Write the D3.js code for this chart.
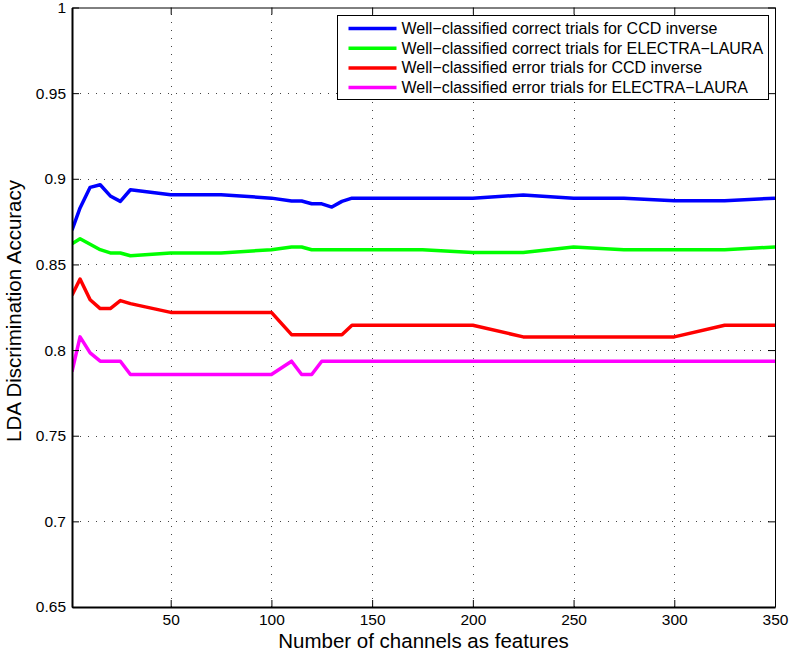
<!DOCTYPE html>
<html>
<head>
<meta charset="utf-8">
<script src="https://cdn.jsdelivr.net/npm/d3@7"></script>
<style>
  body { margin: 0; background: #ffffff; }
  svg { display: block; font-family: "Liberation Sans", Arial, sans-serif; }
</style>
</head>
<body>
<div id="chart"></div>
<script>
// data
let channels = [1, 5, 10, 15, 20, 25, 30, 50, 75, 100, 110, 115, 120, 125, 130, 135, 140, 150, 175, 200, 225, 250, 275, 300, 325, 350];

let correctCCD = [0.8700, 0.8830, 0.8950, 0.8965, 0.8900, 0.8868, 0.8936, 0.8907, 0.8907, 0.8887, 0.8870, 0.8870, 0.8854, 0.8854, 0.8835, 0.8868, 0.8887, 0.8887, 0.8887, 0.8887, 0.8905, 0.8887, 0.8887, 0.8872, 0.8872, 0.8887];
let correctLaura = [0.8620, 0.8650, 0.8618, 0.8586, 0.8567, 0.8567, 0.8551, 0.8567, 0.8567, 0.8586, 0.8602, 0.8602, 0.8586, 0.8586, 0.8586, 0.8586, 0.8586, 0.8586, 0.8586, 0.8570, 0.8570, 0.8602, 0.8586, 0.8586, 0.8586, 0.8602];
let errorCCD = [0.8320, 0.8415, 0.8294, 0.8242, 0.8242, 0.8289, 0.8271, 0.8220, 0.8220, 0.8220, 0.8090, 0.8090, 0.8090, 0.8090, 0.8090, 0.8090, 0.8145, 0.8145, 0.8145, 0.8145, 0.8077, 0.8077, 0.8077, 0.8077, 0.8145, 0.8145];
let errorLaura = [0.7875, 0.8077, 0.7984, 0.7935, 0.7935, 0.7935, 0.7857, 0.7857, 0.7857, 0.7857, 0.7935, 0.7857, 0.7857, 0.7935, 0.7935, 0.7935, 0.7935, 0.7935, 0.7935, 0.7935, 0.7935, 0.7935, 0.7935, 0.7935, 0.7935, 0.7935];

let seriesNames = [
    "Well\u2212classified correct trials for CCD inverse",
    "Well\u2212classified correct trials for ELECTRA\u2212LAURA",
    "Well\u2212classified error trials for CCD inverse",
    "Well\u2212classified error trials for ELECTRA\u2212LAURA"
];
let seriesColors = ["#0000ff", "#00ff00", "#ff0000", "#ff00ff"];
let seriesValues = [correctCCD, correctLaura, errorCCD, errorLaura];

let xTicks = [50, 100, 150, 200, 250, 300, 350];
let yTicks = [0.65, 0.7, 0.75, 0.8, 0.85, 0.9, 0.95, 1];

//Options
let W = 789, H = 659;
let plotLeft = 72, plotRight = 775, plotTop = 7.5, plotBottom = 607;
let tick_len = 7;

let svg = d3.select("#chart").append("svg")
    .attr("width", W)
    .attr("height", H);

let x = d3.scaleLinear().domain([1, 350]).range([plotLeft, plotRight]);
let y = d3.scaleLinear().domain([0.65, 1]).range([plotBottom, plotTop]);

// dotted grid
let grid = svg.append("g").attr("id", "grid")
    .attr("stroke", "#444")
    .attr("stroke-width", 1)
    .attr("stroke-dasharray", "1,7");

grid.selectAll(".vgrid")
    .data(xTicks.filter(d => d < 350))
    .enter().append("line")
    .attr("x1", d => Math.round(x(d)) + 0.5)
    .attr("x2", d => Math.round(x(d)) + 0.5)
    .attr("y1", plotBottom)
    .attr("y2", plotTop);

grid.selectAll(".hgrid")
    .data(yTicks.filter(d => d > 0.65 && d < 1))
    .enter().append("line")
    .attr("y1", d => Math.round(y(d)) + 0.5)
    .attr("y2", d => Math.round(y(d)) + 0.5)
    .attr("x1", plotLeft)
    .attr("x2", plotRight);

// the lines
let line = d3.line()
    .x((d, i) => x(channels[i]))
    .y(d => y(d));

svg.append("defs").append("clipPath").attr("id", "plotClip")
    .append("rect")
    .attr("x", plotLeft).attr("y", plotTop)
    .attr("width", plotRight - plotLeft).attr("height", plotBottom - plotTop);

svg.append("g")
    .attr("clip-path", "url(#plotClip)")
    .selectAll("path")
    .data(seriesValues)
    .enter().append("path")
    .attr("d", line)
    .attr("fill", "none")
    .attr("stroke", (d, i) => seriesColors[i])
    .attr("stroke-width", 3.5)
    .attr("stroke-linejoin", "round");

// axes, matlab-style boxed with inward ticks
let xAxis = d3.axisBottom(x)
    .tickValues(xTicks)
    .tickSize(-tick_len)
    .tickSizeOuter(0)
    .tickPadding(7)
    .tickFormat(d3.format("d"));

let yAxis = d3.axisLeft(y)
    .tickValues(yTicks)
    .tickSize(-tick_len)
    .tickSizeOuter(0)
    .tickPadding(6)
    .tickFormat(d => String(+d.toFixed(2)));

let gx = svg.append("g")
    .attr("transform", `translate(0,${plotBottom})`)
    .call(xAxis);
let gy = svg.append("g")
    .attr("transform", `translate(${plotLeft},0)`)
    .call(yAxis);

[gx, gy].forEach(g => {
    g.selectAll("text")
        .style("font-size", "15.5px")
        .style("font-family", "Liberation Sans, Arial, sans-serif")
        .attr("fill", "#000");
    g.selectAll(".tick line").attr("stroke", "#000");
    g.select(".domain").attr("stroke", "#000").attr("stroke-width", 2);
});

// top and right sides with their ticks
let gxTop = svg.append("g")
    .attr("transform", `translate(0,${plotTop})`)
    .call(d3.axisTop(x).tickValues(xTicks).tickSize(-tick_len).tickSizeOuter(0).tickFormat(""));
let gyRight = svg.append("g")
    .attr("transform", `translate(${plotRight},0)`)
    .call(d3.axisRight(y).tickValues(yTicks).tickSize(-tick_len).tickSizeOuter(0).tickFormat(""));
[gxTop, gyRight].forEach(g => {
    g.selectAll(".tick line").attr("stroke", "#000");
    g.select(".domain").attr("stroke", "#000").attr("stroke-width", 1);
});

// axis titles
svg.append("text")
    .attr("x", (plotLeft + plotRight) / 2)
    .attr("y", 648)
    .attr("text-anchor", "middle")
    .style("font-size", "20.5px")
    .text("Number of channels as features");

svg.append("text")
    .attr("transform", `translate(21,311) rotate(-90)`)
    .attr("text-anchor", "middle")
    .style("font-size", "20.5px")
    .text("LDA Discrimination Accuracy");

// legend
let legend = svg.append("g").attr("id", "legend")
    .attr("transform", "translate(337.5,15.5)");

legend.append("rect")
    .attr("width", 431)
    .attr("height", 84)
    .attr("fill", "#fff")
    .attr("stroke", "#000")
    .attr("stroke-width", 1);

let items = legend.selectAll(".item")
    .data(seriesNames)
    .enter().append("g")
    .attr("transform", (d, i) => `translate(0,${13 + i * 19.7})`);

items.append("line")
    .attr("x1", 11).attr("x2", 59)
    .attr("stroke", (d, i) => seriesColors[i])
    .attr("stroke-width", 3.5);

items.append("text")
    .attr("x", 64)
    .attr("y", 5.5)
    .style("font-size", "16px")
    .text(d => d);
</script>
</body>
</html>
